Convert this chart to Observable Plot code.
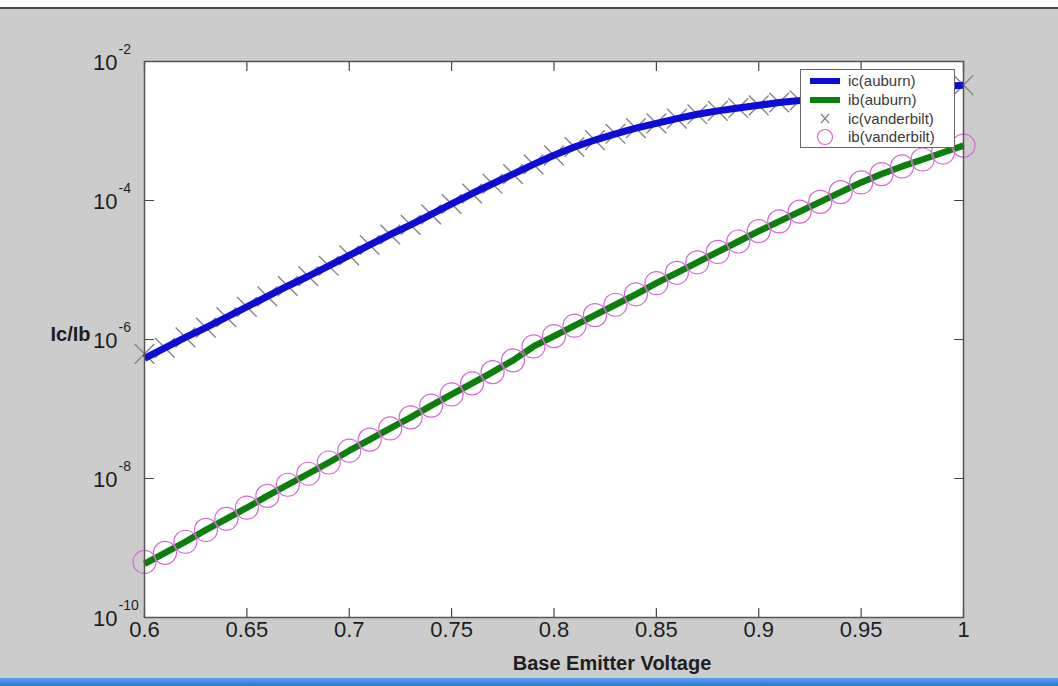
<!DOCTYPE html>
<html>
<head>
<meta charset="utf-8">
<script src="https://cdn.jsdelivr.net/npm/d3@7"></script>
<script src="https://cdn.jsdelivr.net/npm/@observablehq/plot@0.6"></script>
<style>
  html, body { margin: 0; padding: 0; background: #cccccc; overflow: hidden; }
  #wrap { position: relative; width: 1058px; height: 686px; background: #cccccc; font-family: Arial, "Liberation Sans", sans-serif; }
  #topbar { position: absolute; left: 0; top: 0; width: 1058px; height: 7px; background: #ffffff; border-bottom: 2px solid #4a4a4a; }
  #bottombar { position: absolute; left: 0; top: 678px; width: 1058px; height: 8px; background: linear-gradient(#5a9ff0, #2a76d6); }
  #legend { position: absolute; left: 800px; top: 69px; }
  #chart svg { display: block; }
</style>
</head>
<body>
<div id="wrap">
  <div id="chart"></div>
  <div id="topbar"></div>
  <div id="bottombar"></div>
  <div id="legend"></div>
</div>
<script>
// ---- Data ----
const voltage = [0.60, 0.61, 0.62, 0.63, 0.64, 0.65, 0.66, 0.67, 0.68, 0.69,
                 0.70, 0.71, 0.72, 0.73, 0.74, 0.75, 0.76, 0.77, 0.78, 0.79,
                 0.80, 0.81, 0.82, 0.83, 0.84, 0.85, 0.86, 0.87, 0.88, 0.89,
                 0.90, 0.91, 0.92, 0.93, 0.94, 0.95, 0.96, 0.97, 0.98, 0.99, 1.00];

const icAuburn = [5.37e-7, 7.59e-7, 1.07e-6, 1.48e-6, 2.09e-6, 2.95e-6, 4.17e-6, 5.89e-6, 8.13e-6, 1.15e-5,
                  1.62e-5, 2.29e-5, 3.24e-5, 4.47e-5, 6.31e-5, 8.91e-5, 1.26e-4, 1.74e-4, 2.40e-4, 3.31e-4,
                  4.47e-4, 5.89e-4, 7.41e-4, 9.12e-4, 1.10e-3, 1.29e-3, 1.51e-3, 1.74e-3, 1.95e-3, 2.14e-3,
                  2.34e-3, 2.57e-3, 2.75e-3, 3.02e-3, 3.24e-3, 3.47e-3, 3.72e-3, 3.98e-3, 4.17e-3, 4.37e-3, 4.57e-3];

const ibAuburn = [5.89e-10, 8.51e-10, 1.23e-9, 1.82e-9, 2.63e-9, 3.80e-9, 5.62e-9, 8.13e-9, 1.17e-8, 1.70e-8,
                  2.51e-8, 3.63e-8, 5.25e-8, 7.59e-8, 1.12e-7, 1.62e-7, 2.34e-7, 3.39e-7, 5.01e-7, 7.94e-7,
                  1.12e-6, 1.58e-6, 2.24e-6, 3.16e-6, 4.47e-6, 6.46e-6, 9.12e-6, 1.29e-5, 1.82e-5, 2.57e-5,
                  3.63e-5, 5.01e-5, 6.92e-5, 9.55e-5, 1.32e-4, 1.82e-4, 2.40e-4, 3.09e-4, 3.89e-4, 4.90e-4, 6.17e-4];

const icVanderbilt = [6.2e-7, 7.59e-7, 1.07e-6, 1.48e-6, 2.09e-6, 2.95e-6, 4.17e-6, 5.89e-6, 8.13e-6, 1.15e-5,
                      1.62e-5, 2.29e-5, 3.24e-5, 4.47e-5, 6.31e-5, 8.91e-5, 1.26e-4, 1.74e-4, 2.40e-4, 3.31e-4,
                      4.47e-4, 5.89e-4, 7.41e-4, 9.12e-4, 1.10e-3, 1.29e-3, 1.51e-3, 1.74e-3, 1.95e-3, 2.14e-3,
                      2.34e-3, 2.57e-3, 2.75e-3, 3.02e-3, 3.24e-3, 3.47e-3, 3.72e-3, 3.98e-3, 4.17e-3, 4.37e-3, 4.57e-3];

const ibVanderbilt = [6.3e-10, 8.51e-10, 1.23e-9, 1.82e-9, 2.63e-9, 3.80e-9, 5.62e-9, 8.13e-9, 1.17e-8, 1.70e-8,
                      2.51e-8, 3.63e-8, 5.25e-8, 7.59e-8, 1.12e-7, 1.62e-7, 2.34e-7, 3.39e-7, 5.01e-7, 7.94e-7,
                      1.12e-6, 1.58e-6, 2.24e-6, 3.16e-6, 4.47e-6, 6.46e-6, 9.12e-6, 1.29e-5, 1.82e-5, 2.57e-5,
                      3.63e-5, 5.01e-5, 6.92e-5, 9.55e-5, 1.32e-4, 1.82e-4, 2.40e-4, 3.09e-4, 3.89e-4, 4.90e-4, 6.17e-4];

const xTicks = [0.6, 0.65, 0.7, 0.75, 0.8, 0.85, 0.9, 0.95, 1];
const xTickLabels = ["0.6", "0.65", "0.7", "0.75", "0.8", "0.85", "0.9", "0.95", "1"];
const yTicks = [1e-10, 1e-8, 1e-6, 1e-4, 1e-2];
const yTickExponents = ["-10", "-8", "-6", "-4", "-2"];
const seriesNames = ["ic(auburn)", "ib(auburn)", "ic(vanderbilt)", "ib(vanderbilt)"];
const xLabel = "Base Emitter Voltage";
const yLabel = "Ic/Ib";

// ---- Styles ----
const BLUE = "#0c0cd4";
const GREEN = "#0b7e0b";
const GREY_X = "#858585";
const MAGENTA = "#d468d6";
const TEXT = "#1e1e1e";

const rows = voltage.map((v, i) => ({
  v, ic: icAuburn[i], ib: ibAuburn[i], icV: icVanderbilt[i], ibV: ibVanderbilt[i]
}));

const tickShape = { draw(ctx, l) { ctx.moveTo(0, 0); ctx.lineTo(0, -l); } };
const tickStyle = { length: 9, anchor: "start", shape: tickShape, stroke: "#444", strokeWidth: 1.2 };

const chart = Plot.plot({
  width: 1058,
  height: 686,
  marginLeft: 144,
  marginRight: 95,
  marginTop: 61,
  marginBottom: 69,
  style: { background: "transparent", color: TEXT, fontFamily: "Arial, 'Liberation Sans', sans-serif", overflow: "visible" },
  x: { domain: [0.6, 1], axis: null },
  y: { type: "log", domain: [1e-10, 1e-2], axis: null },
  marks: [
    Plot.frame({ fill: "white", stroke: null }),
    // inward ticks on four sides
    Plot.vector(xTicks, { x: d => d, frameAnchor: "bottom", rotate: 0, ...tickStyle }),
    Plot.vector(xTicks, { x: d => d, frameAnchor: "top", rotate: 180, ...tickStyle }),
    Plot.vector(yTicks, { y: d => d, frameAnchor: "left", rotate: 90, ...tickStyle }),
    Plot.vector(yTicks, { y: d => d, frameAnchor: "right", rotate: -90, ...tickStyle }),
    // series
    Plot.dot(rows, { x: "v", y: "icV", symbol: "times", r: 9, stroke: GREY_X, strokeWidth: 1.4 }),
    Plot.line(rows, { x: "v", y: "ic", stroke: BLUE, strokeWidth: 7, strokeLinecap: "butt" }),
    Plot.line(rows, { x: "v", y: "ib", stroke: GREEN, strokeWidth: 6.5, strokeLinecap: "butt" }),
    Plot.dot(rows, { x: "v", y: "ibV", r: 11.5, stroke: MAGENTA, strokeWidth: 1.2, fill: "none" }),
    Plot.frame({ stroke: "#555", strokeWidth: 1.5 }),
    // tick labels
    Plot.text(xTicks, { x: d => d, frameAnchor: "bottom", text: (d, i) => xTickLabels[i], dy: 19, fontSize: 22, fill: TEXT }),
    Plot.text(yTicks, { y: d => d, frameAnchor: "left", text: () => "10", textAnchor: "end", dx: -27, dy: 1, fontSize: 22, fill: TEXT }),
    Plot.text(yTicks, { y: d => d, frameAnchor: "left", text: (d, i) => yTickExponents[i], textAnchor: "start", dx: -26, dy: -12, fontSize: 14, fill: TEXT }),
    // axis labels
    Plot.text([yLabel], { frameAnchor: "left", text: d => d, textAnchor: "start", dx: -94, dy: -5, fontSize: 20, fontWeight: "bold", fill: TEXT }),
    Plot.text([xLabel], { frameAnchor: "bottom", text: d => d, dx: 58, dy: 52, fontSize: 20, fontWeight: "bold", fill: TEXT })
  ]
});
document.getElementById("chart").appendChild(chart);

// ---- Legend (overlaid inside the axes, top-right) ----
const legendW = 155, legendH = 79;
const rowY = [12, 31, 49.5, 68];
const leg = d3.select("#legend").append("svg")
  .attr("width", legendW).attr("height", legendH)
  .style("display", "block");
leg.append("rect").attr("x", 0.5).attr("y", 0.5).attr("width", legendW - 1).attr("height", legendH - 1)
  .attr("fill", "white").attr("stroke", "#666").attr("stroke-width", 1);
// samples
leg.append("line").attr("x1", 10).attr("x2", 40).attr("y1", rowY[0]).attr("y2", rowY[0])
  .attr("stroke", BLUE).attr("stroke-width", 6);
leg.append("line").attr("x1", 10).attr("x2", 40).attr("y1", rowY[1]).attr("y2", rowY[1])
  .attr("stroke", GREEN).attr("stroke-width", 6);
leg.append("path").attr("d", `M21,${rowY[2] - 4.5}L29,${rowY[2] + 4.5}M21,${rowY[2] + 4.5}L29,${rowY[2] - 4.5}`)
  .attr("stroke", GREY_X).attr("stroke-width", 1.3).attr("fill", "none");
leg.append("circle").attr("cx", 25).attr("cy", rowY[3]).attr("r", 7.5)
  .attr("stroke", MAGENTA).attr("stroke-width", 1.2).attr("fill", "none");
seriesNames.forEach((name, i) => {
  leg.append("text").attr("x", 48).attr("y", rowY[i]).attr("dy", "0.35em")
    .attr("font-family", "Arial, 'Liberation Sans', sans-serif").attr("font-size", 15)
    .attr("fill", "#3a3a3a").text(name);
});
</script>
</body>
</html>
